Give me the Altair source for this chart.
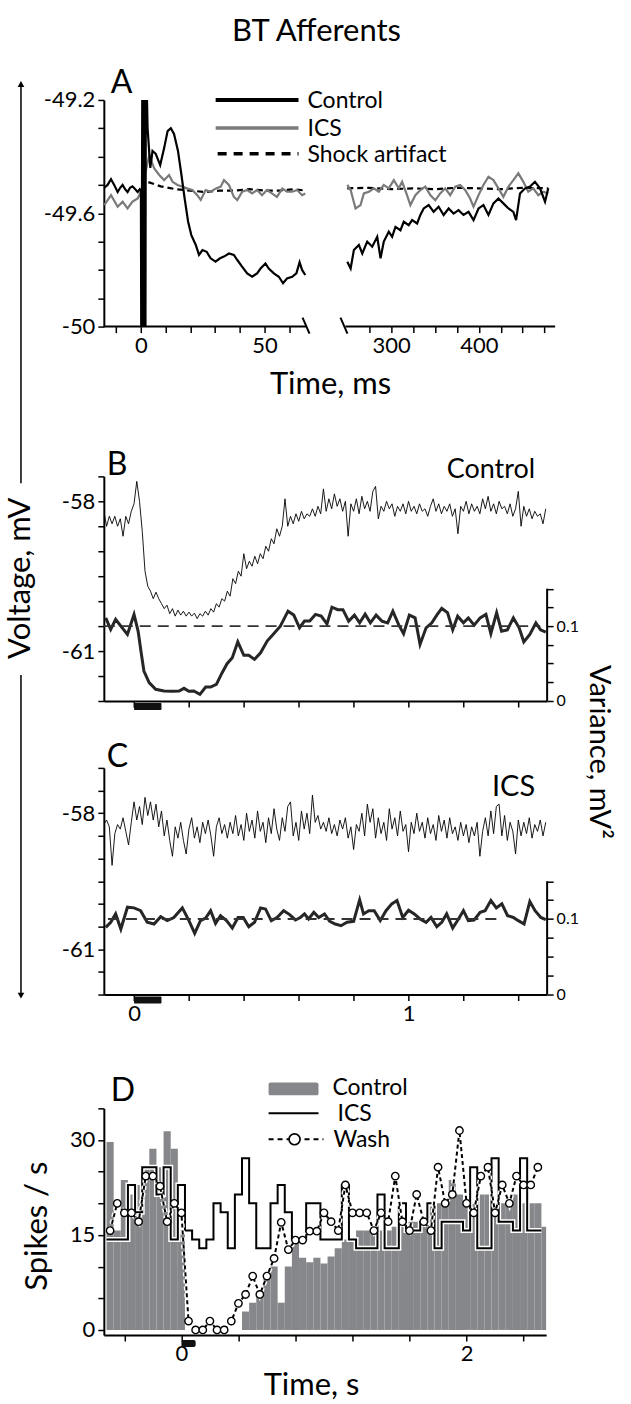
import altair as alt
import pandas as pd

FONT = "Lato"
ONE = pd.DataFrame({"_": [0]})

# ---------------- Panel A data (time ms, voltage mV) ----------------
a_control_left = [(-14.8,-49.51),(-13.5,-49.50),(-12.1,-49.48),(-10.8,-49.50),(-9.4,-49.525),(-8.4,-49.51),
    (-7.4,-49.50),(-6.4,-49.515),(-5.4,-49.525),(-4.4,-49.51),(-3.4,-49.505),(-2.3,-49.515),(-1.3,-49.525),
    (-0.5,-49.515),(0.0,-49.52),(0.2,-50.3),(0.6,-49.0),(1.0,-50.3),(1.4,-49.0),(1.8,-50.3),(2.0,-49.0),
    (2.7,-49.30),(3.8,-49.44),(4.7,-49.38),(6.0,-49.39),(7.8,-49.43),(9.4,-49.37),(10.8,-49.31),(12.1,-49.30),
    (13.4,-49.32),(15.0,-49.38),(16.4,-49.465),(17.7,-49.548),(19.1,-49.63),(20.4,-49.677),(22.2,-49.712),
    (23.5,-49.747),(24.9,-49.73),(26.6,-49.736),(28.2,-49.759),(30.2,-49.771),(32.0,-49.759),(33.6,-49.753),
    (35.6,-49.742),(37.6,-49.747),(39.0,-49.765),(41.0,-49.789),(43.0,-49.812),(45.0,-49.824),(47.0,-49.812),
    (48.4,-49.795),(50.4,-49.777),(51.7,-49.795),(53.8,-49.812),(55.8,-49.824),(57.5,-49.847),(59.1,-49.83),
    (61.2,-49.824),(62.9,-49.812),(64.2,-49.773),(65.2,-49.80),(66.5,-49.818)]
a_ics_left = [(-14.8,-49.571),(-12.1,-49.536),(-9.4,-49.577),(-7.4,-49.559),(-5.4,-49.583),(-3.4,-49.559),
    (-1.3,-49.548),(0.0,-49.524),(3.4,-49.395),(5.4,-49.442),(7.4,-49.465),(9.4,-49.483),(11.4,-49.465),
    (12.8,-49.489),(14.8,-49.50),(16.8,-49.506),(18.8,-49.513),(20.8,-49.518),(22.8,-49.536),(24.2,-49.553),
    (26.2,-49.518),(28.2,-49.524),(30.2,-49.513),(32.3,-49.506),(33.6,-49.483),(35.6,-49.50),(37.6,-49.542),
    (39.0,-49.553),(41.0,-49.524),(43.0,-49.518),(45.0,-49.53),(47.0,-49.518),(49.0,-49.536),(51.0,-49.518),
    (53.0,-49.53),(55.0,-49.542),(57.2,-49.513),(59.1,-49.524),(61.2,-49.524),(63.2,-49.518),(65.2,-49.536),
    (66.5,-49.53)]
a_shock_left = [(3.0,-49.49),(8.0,-49.505),(14.0,-49.515),(20.0,-49.52),(26.0,-49.525),(32.0,-49.52),
    (38.0,-49.52),(44.0,-49.515),(50.0,-49.52),(56.0,-49.52),(62.0,-49.515),(66.5,-49.52)]
a_control_right = [(250.1,-49.771),(253.9,-49.795),(257.6,-49.730),(263.3,-49.712),(267.2,-49.742),
    (272.8,-49.700),(278.5,-49.718),(284.2,-49.683),(288.0,-49.759),(291.7,-49.700),(297.4,-49.665),
    (301.2,-49.683),(305.0,-49.648),(310.7,-49.660),(314.5,-49.630),(320.1,-49.642),(324.0,-49.624),
    (329.7,-49.636),(333.4,-49.606),(337.2,-49.583),(342.9,-49.571),(348.5,-49.595),(354.2,-49.577),
    (359.9,-49.606),(365.6,-49.583),(371.3,-49.601),(376.9,-49.589),(382.6,-49.606),(388.3,-49.595),
    (394.0,-49.624),(399.7,-49.583),(405.3,-49.571),(411.0,-49.606),(416.7,-49.565),(422.4,-49.548),
    (428.0,-49.565),(433.8,-49.583),(439.4,-49.595),(442.5,-49.624),(447.0,-49.530),(452.7,-49.512),
    (458.4,-49.506),(464.0,-49.489),(469.8,-49.512),(475.5,-49.559),(479.2,-49.512)]
a_ics_right = [(250.1,-49.50),(253.9,-49.518),(259.5,-49.583),(265.2,-49.571),(269.0,-49.530),(274.7,-49.524),
    (280.4,-49.512),(286.0,-49.524),(291.7,-49.50),(297.4,-49.512),(303.1,-49.483),(308.8,-49.512),
    (312.6,-49.489),(318.2,-49.536),(322.0,-49.571),(327.7,-49.536),(333.4,-49.518),(339.0,-49.506),
    (344.7,-49.536),(350.4,-49.554),(356.0,-49.530),(361.7,-49.512),(367.4,-49.536),(373.1,-49.506),
    (378.8,-49.50),(384.4,-49.518),(390.1,-49.548),(394.0,-49.577),(399.7,-49.536),(405.3,-49.50),
    (411.0,-49.471),(416.7,-49.483),(422.4,-49.512),(428.0,-49.542),(433.8,-49.506),(439.4,-49.483),
    (445.1,-49.459),(450.8,-49.489),(456.4,-49.524),(462.1,-49.512),(467.8,-49.536),(473.5,-49.524),
    (479.2,-49.530)]
a_shock_right = [(250.1,-49.512),(275.0,-49.51),(300.0,-49.515),(325.0,-49.512),(350.0,-49.515),
    (375.0,-49.51),(400.0,-49.512),(425.0,-49.515),(450.0,-49.51),(479.2,-49.512)]
a_segments = [(-15, 67), (248, 487)]   # the two pieces of the broken time axis (ms)

# ---------------- Panel B / C data (time s, step 0.01 s from -0.11) ----------------
bc_t0 = -0.11
bc_dt = 0.01
b_voltage = [-58.2,-58.5,-58.3,-58.45,-58.3,-58.5,-58.35,-58.7,-58.3,-58.45,-58.2,
    -58.05,-57.6,-58.0,-58.6,-59.4,-59.7,-59.8,-59.95,-59.82,-59.95,-60.05,-60.15,-60.08,-60.25,-60.15,
    -60.3,-60.18,-60.28,-60.2,-60.3,-60.22,-60.3,-60.24,-60.35,-60.25,-60.3,-60.2,-60.28,-60.15,-60.22,
    -60.05,-60.12,-59.95,-60.0,-59.8,-59.9,-59.55,-59.65,-59.4,-59.5,-59.05,-59.35,-59.2,-59.3,-59.1,
    -59.25,-59.05,-59.15,-58.9,-59.0,-58.75,-58.85,-58.55,-58.7,-58.5,-57.95,-58.5,-58.3,-58.45,-58.25,
    -58.4,-58.2,-58.35,-58.25,-58.3,-58.15,-58.3,-58.1,-58.25,-57.75,-58.2,-57.95,-58.15,-57.85,-58.1,
    -57.95,-58.2,-58.0,-58.7,-58.05,-58.2,-57.95,-58.25,-57.9,-58.15,-58.0,-58.2,-57.8,-57.7,-58.35,
    -58.1,-58.2,-58.0,-58.15,-58.05,-58.3,-58.1,-58.2,-58.05,-58.25,-58.0,-58.2,-58.1,-58.25,-58.05,
    -58.2,-58.15,-58.3,-58.1,-57.95,-58.2,-58.05,-58.25,-58.1,-58.2,-58.05,-58.3,-58.15,-58.65,-58.1,
    -58.2,-58.0,-58.25,-58.05,-58.2,-58.1,-58.25,-57.95,-58.15,-57.9,-58.2,-58.05,-58.25,-58.0,-58.15,
    -58.1,-58.25,-58.05,-58.3,-58.15,-57.8,-58.5,-58.1,-58.3,-58.15,-58.35,-58.2,-58.3,-58.25,-58.45,-58.15]
c_voltage = [-58.25,-58.15,-58.3,-59.15,-58.45,-58.25,-58.35,-58.1,-58.4,-58.7,-58.2,
    -57.75,-58.15,-57.85,-58.25,-57.65,-58.05,-57.75,-58.15,-57.8,-58.3,-57.95,-58.5,-58.15,-58.6,-58.95,
    -58.3,-58.55,-58.2,-58.6,-58.9,-58.35,-58.1,-58.55,-58.3,-58.65,-58.2,-58.45,-58.15,-58.5,-58.95,
    -58.3,-58.1,-58.45,-58.25,-58.55,-58.2,-58.45,-58.05,-58.5,-58.25,-58.6,-58.0,-58.4,-58.15,-58.55,
    -57.95,-58.4,-58.2,-58.65,-58.1,-58.45,-57.9,-58.35,-58.6,-58.1,-58.4,-57.85,-57.75,-58.5,-58.2,
    -58.6,-57.95,-58.35,-58.0,-58.45,-57.6,-58.2,-58.05,-58.35,-58.2,-58.4,-58.1,-58.45,-58.25,-58.5,
    -58.15,-58.35,-58.1,-58.55,-58.3,-58.8,-58.25,-58.4,-58.0,-58.5,-57.8,-58.2,-57.9,-58.55,-58.1,
    -58.45,-58.2,-58.6,-57.9,-58.35,-58.1,-58.5,-57.95,-58.4,-58.25,-58.85,-58.2,-58.45,-58.0,-58.4,
    -58.2,-58.55,-58.1,-58.45,-58.25,-58.6,-58.05,-58.4,-58.15,-58.55,-58.1,-58.45,-58.3,-58.6,-58.2,
    -58.5,-58.25,-58.65,-58.3,-58.5,-58.2,-58.95,-58.4,-58.1,-58.5,-57.95,-58.45,-57.85,-57.8,-58.5,
    -58.05,-58.6,-58.2,-58.4,-58.9,-58.15,-58.5,-58.2,-58.45,-58.1,-58.55,-58.25,-58.4,-58.15,-58.5,-58.2]
b_variance = [(-0.103,0.111),(-0.085,0.0955),(-0.067,0.109),(-0.048,0.100),(-0.024,0.089),(0.0,0.1156),
    (0.015,0.093),(0.027,0.062),(0.036,0.040),(0.055,0.0245),(0.079,0.0156),(0.109,0.0133),(0.139,0.0129),
    (0.164,0.0133),(0.182,0.0169),(0.2,0.0129),(0.218,0.0133),(0.24,0.0089),(0.261,0.0187),(0.279,0.0187),
    (0.3,0.0222),(0.321,0.0378),(0.339,0.0498),(0.358,0.0578),(0.378,0.079),(0.4,0.061),(0.418,0.061),
    (0.439,0.0556),(0.461,0.0644),(0.485,0.080),(0.509,0.0898),(0.533,0.100),(0.561,0.120),(0.582,0.1147),
    (0.603,0.0978),(0.621,0.1067),(0.64,0.1067),(0.661,0.1156),(0.682,0.1133),(0.703,0.103),(0.721,0.1253),
    (0.742,0.122),(0.761,0.122),(0.782,0.1067),(0.803,0.1147),(0.822,0.1044),(0.842,0.116),(0.861,0.1044),
    (0.882,0.1147),(0.903,0.1067),(0.924,0.1044),(0.943,0.120),(0.964,0.102),(0.982,0.090),(1.003,0.1147),
    (1.024,0.111),(1.042,0.0756),(1.064,0.0978),(1.085,0.1044),(1.103,0.1147),(1.121,0.1236),(1.142,0.118),
    (1.161,0.095),(1.179,0.1133),(1.2,0.1044),(1.218,0.111),(1.239,0.1013),(1.261,0.111),(1.282,0.1156),
    (1.3,0.0898),(1.321,0.118),(1.339,0.0933),(1.36,0.095),(1.382,0.111),(1.403,0.0978),(1.42,0.079),
    (1.442,0.089),(1.464,0.1044),(1.481,0.095),(1.5,0.092)]
c_variance = [(-0.103,0.0889),(-0.085,0.0956),(-0.067,0.1067),(-0.048,0.0867),(-0.024,0.1156),(0.0,0.1147),
    (0.024,0.111),(0.048,0.0956),(0.073,0.0933),(0.097,0.1031),(0.121,0.0978),(0.145,0.102),(0.176,0.1147),
    (0.2,0.0978),(0.221,0.0809),(0.242,0.0978),(0.261,0.1013),(0.279,0.111),(0.297,0.0942),(0.315,0.1044),
    (0.337,0.0978),(0.358,0.088),(0.379,0.102),(0.398,0.102),(0.418,0.0898),(0.439,0.0956),(0.461,0.1147),
    (0.479,0.1133),(0.5,0.0978),(0.521,0.102),(0.545,0.111),(0.567,0.1058),(0.588,0.0987),(0.606,0.102),
    (0.621,0.1067),(0.636,0.1),(0.655,0.1089),(0.673,0.102),(0.694,0.1067),(0.713,0.0969),(0.733,0.0933),
    (0.754,0.0911),(0.776,0.0956),(0.8,0.0969),(0.822,0.1253),(0.836,0.1067),(0.855,0.111),(0.875,0.111),
    (0.897,0.0978),(0.918,0.111),(0.939,0.120),(0.958,0.1244),(0.979,0.102),(1.0,0.1116),(1.021,0.1067),
    (1.042,0.1),(1.064,0.0956),(1.082,0.102),(1.103,0.0898),(1.121,0.0956),(1.139,0.1067),(1.161,0.088),
    (1.182,0.1),(1.2,0.111),(1.218,0.0978),(1.239,0.0987),(1.261,0.1089),(1.279,0.111),(1.3,0.1244),
    (1.32,0.1147),(1.34,0.12),(1.361,0.1044),(1.382,0.102),(1.4,0.0978),(1.421,0.0933),(1.442,0.1231),
    (1.461,0.111),(1.482,0.102),(1.5,0.0991)]
variance_ref = 0.1
b_ref_span = (-0.11, 1.48)
c_ref_span = (-0.095, 1.32)
stim = (0.0, 0.1)

# ---------------- Panel D data (spikes/s, 0.05 s bins) ----------------
d_bin0 = -0.525
d_bw = 0.05
d_control = [29.7,15.7,23.7,21.4,22.9,25.7,28.6,25.7,31.4,28.6,15.7,0,0,0,0,0,0,0,0,
    2.9,4.3,5.7,8.6,10.0,4.3,10.0,14.3,11.4,10.7,11.4,
    10.5,11.6,12.9,14.3,14.3,15.7,15.7,15.7,15.7,15.7,16.3,16.3,17.1,17.1,16.3,19.5,20,20,23.7,21.4,
    20,20,21.4,21.4,20,20,20,21.4,20,20,20,16.3]
d_ics = [14.3,14.3,14.3,22.9,18.6,25.7,25.7,21.4,25.7,14.3,22.9,15.7,14.3,12.9,14.3,20,18.6,12.9,21.4,
    27.1,20,12.9,12.9,20,22.9,18.6,14.3,14.3,20,20,14.3,
    14.3,14.3,22.9,14.3,12.9,12.9,12.9,21.4,12.9,12.9,20,15.7,15.7,17.1,20,12.9,17.1,17.1,17.1,15.7,
    25.7,12.9,12.9,27.1,17.1,17.1,15.7,27.1,15.7,15.7]
d_wash = [15.7,20,18.5,18.5,17.1,24.3,24.3,22.7,17.1,20,18.5,1.4,0,0,1.4,0,0,1.4,4.2,5.6,8.5,5.6,8.5,
    11.3,17,12.7,14.2,14.2,15.6,15.6,18.5,
    17.1,15.7,22.9,18.5,18.5,18.5,15.7,18.5,17.1,24.3,17.1,15.7,21.4,17.1,15.7,25.7,20,21.4,31.5,20,
    18.5,24.3,25.7,18.5,22.9,20,24.3,22.9,22.9,25.7]

# ---------------- helpers ----------------
def pairs_df(p):
    return pd.DataFrame(p, columns=["t", "v"])

def text(x, y, s, size, align="left", angle=0, color="black", baseline="middle"):
    return alt.Chart(ONE).mark_text(text=s, fontSize=size, font=FONT, color=color, align=align,
                                    baseline=baseline, angle=angle).encode(x=alt.value(x), y=alt.value(y))

def rule(x, x2, y, y2, color="black", width=2, dash=None):
    kw = dict(color=color, strokeWidth=width)
    if dash:
        kw["strokeDash"] = dash
    return alt.Chart(ONE).mark_rule(**kw).encode(x=alt.value(x), x2=alt.value(x2), y=alt.value(y), y2=alt.value(y2))

def spacer(h, w=10):
    return alt.Chart(ONE).mark_text(text="").encode(x=alt.value(0), y=alt.value(0)).properties(width=w, height=h)

def only_labels(pairs):
    parts = []
    for val, lab in pairs:
        parts.append(f"abs(datum.value - ({val})) < 1e-6 ? '{lab}'")
    return " : ".join(parts) + " : ''"

AX = dict(domainWidth=2, tickWidth=1.5, tickSize=6, labelFontSize=22, labelFont=FONT, title=None,
          labelPadding=3, grid=False, domainColor="black", tickColor="black", labelColor="black")

TITLE_SIZE = 31
LETTER_SIZE = 32
LEGEND_SIZE = 23

# ---------------- Panel A (broken time axis via a piecewise scale) ----------------
WA, HA = 452, 227
yA = alt.Scale(domain=[-50, -49.2], nice=False, zero=False)
xA = alt.Scale(domain=[a_segments[0][0], a_segments[0][1], a_segments[1][0], a_segments[1][1]],
               range=[0, 203, 242, WA], nice=False, zero=False)
yA_axis = alt.Axis(values=[-50, -49.9, -49.8, -49.7, -49.6, -49.5, -49.4, -49.3, -49.2],
                   labelExpr=only_labels([(-49.2, "-49.2"), (-49.6, "-49.6"), (-50, "-50")]), **AX)
xA_axis = alt.Axis(values=[-10, 0, 10, 20, 30, 40, 50, 60, 275, 300, 325, 350, 375, 400, 425, 450, 475],
                   labelExpr=only_labels([(0, "0"), (50, "50"), (300, "300"), (400, "400")]),
                   **{**AX, "domain": False})

def aline(data, color, width, dash=None):
    kw = dict(color=color, strokeWidth=width, clip=True)
    if dash:
        kw["strokeDash"] = dash
    return alt.Chart(pairs_df(data)).mark_line(**kw).encode(
        x=alt.X("t:Q", scale=xA, axis=xA_axis), y=alt.Y("v:Q", scale=yA, axis=yA_axis))

seg_df = pd.DataFrame(a_segments, columns=["t", "t2"])
GRAY = "#7a7a7a"
A = alt.layer(
    aline(a_shock_left, "black", 2.2, [6, 4]),
    aline(a_shock_right, "black", 2.2, [6, 4]),
    aline(a_ics_left, GRAY, 2.2),
    aline(a_ics_right, GRAY, 2.2),
    aline(a_control_left, "black", 2.2),
    aline(a_control_right, "black", 2.2),
    alt.Chart(seg_df).mark_rule(color="black", strokeWidth=2).encode(
        x=alt.X("t:Q", scale=xA, axis=xA_axis), x2="t2:Q", y=alt.value(HA)),
    rule(112, 195, 0, 0, "black", 4),
    rule(112, 195, 28, 28, GRAY, 3.5),
    rule(114, 195, 54, 54, "black", 3.5, [9, 7]),
    text(204, 1, "Control", LEGEND_SIZE),
    text(204, 29, "ICS", LEGEND_SIZE),
    text(204, 55, "Shock artifact", LEGEND_SIZE),
    rule(199, 206, HA - 9, HA + 7, "black", 2),
    rule(237, 244, HA - 9, HA + 7, "black", 2),
    text(7, -17, "A", LETTER_SIZE),
    text(213, -68, "BT Afferents", 31, align="center"),
    text(227, 286, "Time, ms", TITLE_SIZE, align="center"),
    # voltage arrow spanning panels A-C
    rule(-83, -83, -14, 384, "black", 1.5),
    rule(-83, -83, 576, 895, "black", 1.5),
    alt.Chart(ONE).mark_point(shape="triangle-up", filled=True, color="black", size=45, opacity=1).encode(
        x=alt.value(-83), y=alt.value(-16)),
    alt.Chart(ONE).mark_point(shape="triangle-down", filled=True, color="black", size=45, opacity=1).encode(
        x=alt.value(-83), y=alt.value(897)),
    text(-83, 479, "Voltage, mV", TITLE_SIZE, align="center", angle=270),
    # invisible page-corner anchors (top-left and right edge) so the canvas spans the full window
    rule(-103, -102, -98, -98, "white", 1),
    rule(526, 527, -98, -98, "white", 1),
).properties(width=WA, height=HA)

# ---------------- Panels B and C ----------------
WBC = 444
xBC = alt.Scale(domain=[-0.11, 1.505], nice=False, zero=False)
yVar = alt.Scale(domain=[0, 0.3], nice=False, zero=False)
var_axis = alt.Axis(orient="right", values=[0, 0.025, 0.05, 0.075, 0.1, 0.125, 0.15],
                    labelExpr=only_labels([(0, "0"), (0.1, "0.1")]), domain=False,
                    **{**AX, "labelFontSize": 16})

def trace_panel(volts, var_pairs, ref_span, ydom, yvals, H, letter, label, label_size, label_y,
                show_x_labels, extra=None):
    t = [round(bc_t0 + bc_dt * i, 4) for i in range(len(volts))]
    vdf = pd.DataFrame({"t": t, "v": volts})
    ys = alt.Scale(domain=ydom, nice=False, zero=False)
    yaxis = alt.Axis(values=yvals, labelExpr=only_labels([(-58, "-58"), (-61, "-61")]), **AX)
    xaxis = alt.Axis(values=[0, 0.2, 0.4, 0.6, 0.8, 1.0, 1.2, 1.4],
                     labelExpr=only_labels([(0, "0"), (1, "1")]) if show_x_labels else "''", **AX)
    stim_df = pd.DataFrame({"t": [stim[0]], "t2": [stim[1]]})
    volt_layers = [
        alt.Chart(vdf).mark_line(color="black", strokeWidth=0.9, clip=True).encode(
            x=alt.X("t:Q", scale=xBC, axis=xaxis), y=alt.Y("v:Q", scale=ys, axis=yaxis)),
        alt.Chart(stim_df).mark_rect(color="#111", cornerRadius=1).encode(
            x=alt.X("t:Q", scale=xBC, axis=xaxis), x2="t2:Q", y=alt.value(H + 2), y2=alt.value(H + 9)),
        text(3, -11, letter, LETTER_SIZE),
        text(432, label_y, label, label_size, align="right"),
    ]
    if extra is not None:
        volt_layers += extra
    ref_df = pd.DataFrame({"t": [ref_span[0]], "t2": [ref_span[1]], "v": [variance_ref]})
    dom_df = pd.DataFrame({"v": [0.0], "v2": [0.15]})
    var_layers = [
        alt.Chart(pd.DataFrame(var_pairs, columns=["t", "v"])).mark_line(color="#262626", strokeWidth=3,
                                                                            clip=True).encode(
            x=alt.X("t:Q", scale=xBC, axis=xaxis), y=alt.Y("v:Q", scale=yVar, axis=var_axis)),
        alt.Chart(ref_df).mark_rule(color="#333", strokeWidth=1.8, strokeDash=[11, 7]).encode(
            x=alt.X("t:Q", scale=xBC, axis=xaxis), x2="t2:Q", y=alt.Y("v:Q", scale=yVar, axis=var_axis)),
        alt.Chart(dom_df).mark_rule(color="black", strokeWidth=2).encode(
            x=alt.value(WBC), y=alt.Y("v:Q", scale=yVar, axis=var_axis), y2="v2:Q"),
    ]
    return alt.layer(alt.layer(*volt_layers), alt.layer(*var_layers)).resolve_scale(y="independent").properties(
        width=WBC, height=H)

B = trace_panel(b_voltage, b_variance, b_ref_span, [-62, -57.5],
                [-62, -61.5, -61, -60.5, -60, -59.5, -59, -58.5, -58, -57.5], 225, "B", "Control", 27, -6, False,
                extra=[text(496, 276, "Variance, mV\u00b2", 29, align="center", angle=90)])
C = trace_panel(c_voltage, c_variance, c_ref_span, [-62, -57],
                [-62, -61.5, -61, -60.5, -60, -59.5, -59, -58.5, -58, -57.5, -57], 227, "C", "ICS", 29, 19, True)

# ---------------- Panel D ----------------
WD, HD = 443, 227
xD = alt.Scale(domain=[-0.544, 2.558], nice=False, zero=False)
yD = alt.Scale(domain=[-0.8, 35], nice=False, zero=False)
xD_axis = alt.Axis(values=[-0.4, 0, 0.4, 0.8, 1.2, 1.6, 2.0, 2.4], labelExpr=only_labels([(0, "0"), (2, "2")]), **AX)
yD_axis = alt.Axis(values=[0, 5, 10, 15, 20, 25, 30, 35], labelExpr=only_labels([(0, "0"), (15, "15"), (30, "30")]),
                   **AX)

ctrl_df = pd.DataFrame({"x0": [d_bin0 + d_bw * k for k in range(len(d_control))], "v": d_control})
ctrl_df["x1"] = ctrl_df["x0"] + d_bw
ctrl_df["zero"] = 0.0
ics_x = [d_bin0 + d_bw * k for k in range(len(d_ics))] + [d_bin0 + d_bw * len(d_ics)]
ics_df = pd.DataFrame({"t": ics_x, "v": d_ics + [d_ics[-1]]})
wash_df = pd.DataFrame({"t": [d_bin0 + d_bw * (k + 0.5) for k in range(len(d_wash))], "v": d_wash})
stimD = pd.DataFrame({"t": [stim[0]], "t2": [stim[1]]})

def dx(field="t:Q"):
    return alt.X(field, scale=xD, axis=xD_axis)

def dy(field="v:Q"):
    return alt.Y(field, scale=yD, axis=yD_axis)

CTRL_GRAY = "#86878a"
D = alt.layer(
    alt.Chart(ctrl_df).mark_rect(color=CTRL_GRAY, clip=True).encode(x=dx("x0:Q"), x2="x1:Q", y=dy(), y2="zero:Q"),
    alt.Chart(ics_df).mark_line(interpolate="step-after", color="white", strokeWidth=5, clip=True).encode(x=dx(), y=dy()),
    alt.Chart(ics_df).mark_line(interpolate="step-after", color="black", strokeWidth=2, clip=True).encode(x=dx(), y=dy()),
    alt.Chart(wash_df).mark_line(color="white", strokeWidth=5, strokeDash=[4, 3], clip=True).encode(x=dx(), y=dy()),
    alt.Chart(wash_df).mark_line(color="black", strokeWidth=2, strokeDash=[4, 3], clip=True).encode(x=dx(), y=dy()),
    alt.Chart(wash_df).mark_point(shape="circle", filled=True, fill="white", stroke="black", strokeWidth=1.4,
                                  size=55, opacity=1).encode(x=dx(), y=dy()),
    alt.Chart(stimD).mark_rect(color="#111", cornerRadius=2).encode(x=dx(), x2="t2:Q",
                                                                     y=alt.value(HD + 5), y2=alt.value(HD + 12)),
    # legend
    alt.Chart(ONE).mark_rect(color=CTRL_GRAY, cornerRadius=2).encode(
        x=alt.value(165), x2=alt.value(215), y=alt.value(-26), y2=alt.value(-13)),
    rule(165, 215, 5, 5, "black", 2),
    rule(165, 220, 31, 31, "black", 2, [5, 4]),
    alt.Chart(ONE).mark_point(shape="circle", filled=True, fill="white", stroke="black", strokeWidth=1.6,
                              size=120, opacity=1).encode(x=alt.value(191), y=alt.value(31)),
    text(229, -20, "Control", LEGEND_SIZE),
    text(234, 6, "ICS", LEGEND_SIZE),
    text(230, 32, "Wash", LEGEND_SIZE),
    text(7, -17, "D", LETTER_SIZE),
    text(-66, 118, "Spikes / s", TITLE_SIZE, align="center", angle=270),
    text(208, 278, "Time, s", TITLE_SIZE, align="center"),
).properties(width=WD, height=HD)

chart = alt.vconcat(A, spacer(150), B, spacer(67), C, spacer(114), D, spacing=0, bounds="flush").properties(
    padding=0).configure_view(stroke=None)

chart.save("out.html", embed_options={"renderer": "svg", "actions": False})
